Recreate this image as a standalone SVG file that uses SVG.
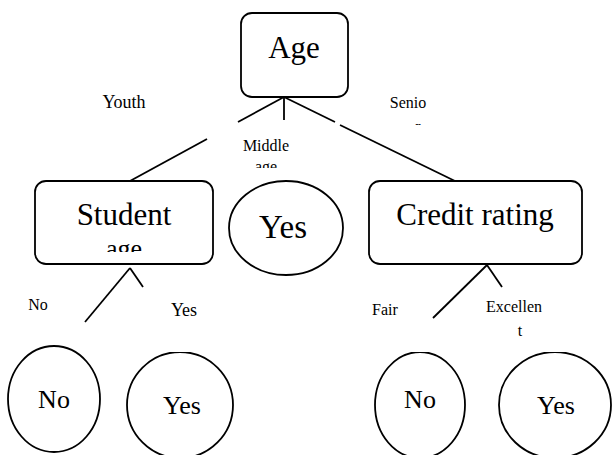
<svg xmlns="http://www.w3.org/2000/svg" width="613" height="455" viewBox="0 0 613 455">
<style>
.shape{fill:#fff;stroke:#000;stroke-width:1.8}
.big{font-family:"Liberation Serif",serif;font-size:31px;fill:#000;text-anchor:middle}
.mid{font-family:"Liberation Serif",serif;font-size:26px;fill:#000;text-anchor:middle}
.lbl{font-family:"Liberation Serif",serif;font-size:16px;fill:#000;text-anchor:middle}
.lbl2{font-family:"Liberation Serif",serif;font-size:18px;fill:#000;text-anchor:middle}
.edge{stroke:#000;stroke-width:1.8;fill:none}
</style>
<defs>
<clipPath id="clipStudentAge"><rect x="0" y="0" width="613" height="252"/></clipPath>
<clipPath id="clipMiddleAge"><rect x="0" y="0" width="613" height="168"/></clipPath>
<clipPath id="clipSenior"><rect x="0" y="0" width="613" height="125"/></clipPath>
<clipPath id="clipLow"><rect x="0" y="352" width="613" height="103"/></clipPath>
</defs>
<rect width="613" height="455" fill="#fff"/>
<g id="connectors">
<line class="edge" x1="284" y1="97" x2="238" y2="122"/>
<line class="edge" x1="207" y1="139" x2="130" y2="181"/>
<line class="edge" x1="284" y1="97" x2="284" y2="120"/>
<line class="edge" x1="284" y1="97" x2="335" y2="122"/>
<line class="edge" x1="340" y1="125" x2="455" y2="181"/>
<line class="edge" x1="130" y1="268" x2="85" y2="322"/>
<line class="edge" x1="130" y1="268" x2="143" y2="287"/>
<line class="edge" x1="487" y1="265" x2="433" y2="318"/>
<line class="edge" x1="487" y1="265" x2="502" y2="287"/>
</g>
<g id="age">
<rect class="shape" x="241" y="13" width="107" height="84" rx="11"/>
<text class="big" x="294" y="58">Age</text>
</g>
<g id="student">
<rect class="shape" x="35" y="181" width="178" height="83" rx="11"/>
<text class="big" x="124" y="225">Student</text>
<text class="mid" x="124" y="257" clip-path="url(#clipStudentAge)">age</text>
</g>
<g id="yes-middle">
<ellipse class="shape" cx="286" cy="228" rx="57" ry="47"/>
<text class="big" x="283" y="238" style="font-size:33px">Yes</text>
</g>
<g id="credit">
<rect class="shape" x="369" y="181" width="213" height="83" rx="11"/>
<text class="big" x="475" y="225">Credit rating</text>
</g>
<g id="no-left">
<ellipse class="shape" cx="54" cy="399" rx="46" ry="53"/>
<text class="mid" x="54" y="408">No</text>
</g>
<g id="yes-left">
<ellipse class="shape" cx="180" cy="405" rx="53" ry="53" clip-path="url(#clipLow)"/>
<text class="mid" x="182" y="414">Yes</text>
</g>
<g id="no-right">
<ellipse class="shape" cx="420" cy="405" rx="45" ry="53" clip-path="url(#clipLow)"/>
<text class="mid" x="420" y="408">No</text>
</g>
<g id="yes-right">
<ellipse class="shape" cx="555" cy="405" rx="56" ry="53" clip-path="url(#clipLow)"/>
<text class="mid" x="556" y="414">Yes</text>
</g>
<g id="labels">
<text class="lbl2" x="124" y="108">Youth</text>
<text class="lbl" x="408" y="108">Senio</text>
<text class="lbl" x="418" y="132" clip-path="url(#clipSenior)">r</text>
<text class="lbl" x="266" y="151">Middle</text>
<text class="lbl" x="266" y="172" clip-path="url(#clipMiddleAge)">age</text>
<text class="lbl" x="38" y="310">No</text>
<text class="lbl2" x="184" y="316">Yes</text>
<text class="lbl" x="385" y="315">Fair</text>
<text class="lbl" x="514" y="312">Excellen</text>
<text class="lbl" x="520" y="336">t</text>
</g>
</svg>
